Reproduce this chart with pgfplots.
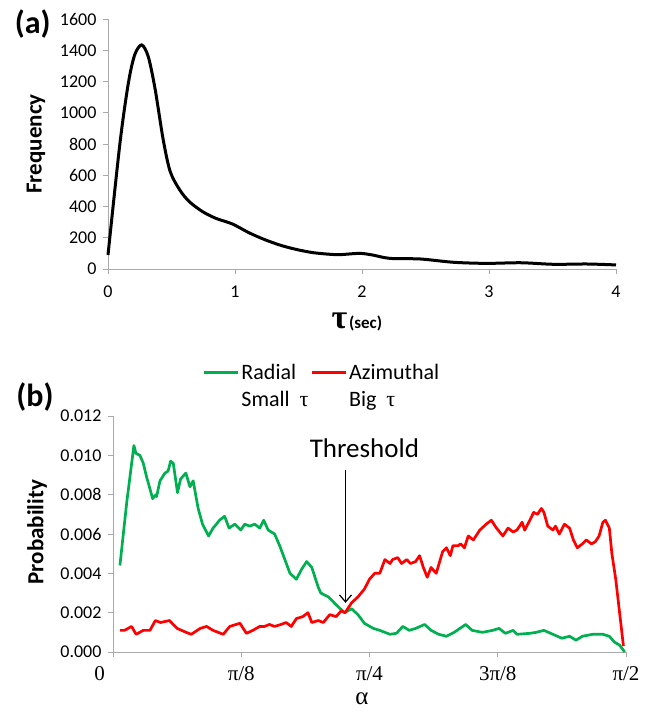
\documentclass[border=0pt]{standalone}
\usepackage{fontspec}
\setmainfont{Carlito}
\newfontfamily\serif{Liberation Serif}
\usepackage{pgfplots}
\pgfplotsset{compat=1.18}
\usetikzlibrary{arrows.meta}

\definecolor{xlgreen}{RGB}{0,176,80}
\definecolor{xlred}{RGB}{255,0,0}
\definecolor{axgray}{RGB}{170,170,170}

\pgfplotsset{
  panel/.style={
    scale only axis,
    anchor=south west,
    axis lines=left,
    axis line style={-, draw=axgray, line width=0.9bp},
    tick align=outside,
    major tick length=5bp,
    tick style={draw=axgray, line width=0.9bp},
    clip=false,
    /pgf/number format/assume math mode=true,
    ticklabel style={font=\fontsize{18bp}{21bp}\selectfont},
    yticklabel style={xshift=-3bp},
  },
}

\begin{document}
\begin{tikzpicture}
\useasboundingbox (0,0) rectangle (648bp,712bp);

% (a) frequency of tau
\begin{axis}[panel,
    at={(108bp,443bp)}, width=508bp, height=250bp,
    xmin=0, xmax=4, ymin=0, ymax=1600,
    xtick={0,1,2,3,4},
    xticklabel style={yshift=-8bp},
    ytick={0,200,...,1600},
    yticklabel style={/pgf/number format/1000 sep={}},
    ylabel={\bfseries Frequency},
    ylabel style={font=\fontsize{23bp}{26bp}\selectfont, at={(axis description cs:-0.142,0.5)}, anchor=center},
    xlabel={{\serif\bfseries\fontsize{34bp}{36bp}\selectfont τ}\,{\bfseries\fontsize{17bp}{19bp}\selectfont (sec)}},
    xlabel style={at={(axis description cs:0.49,-0.212)}, anchor=center},
  ]
  \addplot[black, line width=3bp, smooth, tension=0.5] coordinates {
    (0,90) (0.094,804) (0.16,1188) (0.21,1370) (0.265,1434) (0.317,1359)
    (0.37,1156) (0.435,826) (0.49,623) (0.565,506) (0.64,431) (0.745,367)
    (0.85,324) (0.98,288) (1.11,232) (1.24,186) (1.37,149) (1.50,122)
    (1.62,104) (1.75,94) (1.83,92) (1.98,100) (2.08,90) (2.22,68)
    (2.46,64) (2.72,43) (2.98,36) (3.25,40) (3.51,30) (3.77,32) (4.0,26)
  };
  \node[font=\bfseries\fontsize{32bp}{34bp}\selectfont] at (axis description cs:-0.148,0.98) {(a)};
\end{axis}

% (b) probability of alpha (x in units of pi/8)
\begin{axis}[panel,
    at={(113bp,60bp)}, width=513bp, height=236bp,
    xmin=0, xmax=4, ymin=0, ymax=0.012,
    xtick={0,1,2,3,4},
    xticklabels={\llap{0\hspace{8bp}}, π/8, π/4, 3π/8, π/2},
    xticklabel style={font=\serif\fontsize{21bp}{23bp}\selectfont, yshift=-6bp},
    ytick={0,0.002,...,0.012},
    scaled y ticks=false,
    yticklabel style={/pgf/number format/.cd, fixed, fixed zerofill, precision=3},
    ylabel={\bfseries Probability},
    ylabel style={font=\fontsize{23bp}{26bp}\selectfont, at={(axis description cs:-0.148,0.508)}, anchor=center},
    xlabel={\serif\fontsize{25bp}{26bp}\selectfont α},
    xlabel style={at={(axis description cs:0.485,-0.197)}, anchor=center, inner sep=0pt},
    legend columns=2,
    legend cell align=left,
    legend image code/.code={\draw[#1, line width=2.5bp] (0bp,0bp) -- (34bp,0bp);},
    legend style={draw=none, fill=none, inner sep=0pt,
      at={(axis description cs:0.175,1.245)}, anchor=north west,
      font=\fontsize{22bp}{26bp}\selectfont,
      /tikz/every even column/.append style={column sep=0bp},
      nodes={inner xsep=2bp, inner ysep=5.5bp}},
  ]
  \addplot[xlgreen, line width=2.7bp, line join=round] coordinates {
    (0.054,0.0044) (0.107,0.0076) (0.163,0.0105) (0.179,0.0101) (0.21,0.0100)
    (0.236,0.0096) (0.262,0.0089) (0.288,0.0083) (0.309,0.0078) (0.335,0.0080)
    (0.34,0.0079) (0.366,0.0087) (0.405,0.0091) (0.43,0.0092) (0.449,0.0097)
    (0.47,0.0096) (0.503,0.0081) (0.527,0.0088) (0.568,0.0091) (0.60,0.0084)
    (0.625,0.0087) (0.664,0.0073) (0.698,0.0065) (0.745,0.0059) (0.78,0.0063)
    (0.807,0.0065) (0.83,0.0067) (0.87,0.0069) (0.905,0.0063) (0.95,0.0065)
    (0.996,0.0062) (1.027,0.0065) (1.066,0.0064) (1.105,0.0065) (1.144,0.0063)
    (1.175,0.0067) (1.21,0.0062) (1.26,0.0060) (1.30,0.0054) (1.34,0.0047)
    (1.38,0.0040) (1.43,0.0037) (1.47,0.0042) (1.51,0.0046) (1.55,0.0043)
    (1.60,0.0033) (1.62,0.0030) (1.68,0.0028) (1.74,0.0024) (1.805,0.0020)
    (1.86,0.0022) (1.91,0.0019) (1.96,0.00146) (2.03,0.0012) (2.08,0.0011)
    (2.16,0.0009) (2.21,0.00095) (2.26,0.0013) (2.31,0.0011) (2.36,0.0012)
    (2.43,0.0014) (2.48,0.0011) (2.54,0.0009) (2.60,0.0008) (2.66,0.0010)
    (2.75,0.0014) (2.80,0.0011) (2.88,0.0010) (2.96,0.0011) (3.01,0.0012)
    (3.06,0.00095) (3.12,0.0011) (3.15,0.0009) (3.25,0.00095) (3.30,0.0010)
    (3.36,0.0011) (3.43,0.0009) (3.50,0.0007) (3.56,0.0008) (3.61,0.0006)
    (3.66,0.0008) (3.74,0.0009) (3.82,0.0009) (3.87,0.0008) (3.91,0.0005)
    (3.95,0.00035) (3.99,0.0000)
  };
  \addlegendentry{Radial}
  \addplot[xlred, line width=2.7bp, line join=round] coordinates {
    (0.054,0.0011) (0.09,0.0011) (0.145,0.0013) (0.18,0.0009) (0.236,0.0011)
    (0.288,0.0011) (0.33,0.0016) (0.37,0.0015) (0.44,0.0016) (0.50,0.0012)
    (0.57,0.0010) (0.61,0.0009) (0.68,0.0012) (0.73,0.0013) (0.78,0.0011)
    (0.86,0.0009) (0.91,0.0013) (0.99,0.00146) (1.04,0.00095) (1.09,0.0011)
    (1.144,0.0013) (1.18,0.0013) (1.22,0.0014) (1.26,0.0013) (1.31,0.0014)
    (1.35,0.0015) (1.39,0.0013) (1.43,0.0017) (1.48,0.0018) (1.52,0.0020)
    (1.55,0.0015) (1.60,0.0016) (1.64,0.0015) (1.69,0.0019) (1.74,0.0018)
    (1.78,0.0021) (1.81,0.0020) (1.86,0.0025) (1.91,0.0028) (1.96,0.0032)
    (2.0,0.0037) (2.04,0.0040) (2.08,0.0040) (2.12,0.0047) (2.16,0.0045)
    (2.18,0.0047) (2.22,0.0048) (2.25,0.0045) (2.29,0.0047) (2.32,0.0045)
    (2.36,0.0046) (2.39,0.0049) (2.42,0.0043) (2.45,0.0038) (2.48,0.0043)
    (2.52,0.0040) (2.57,0.0051) (2.60,0.0053) (2.63,0.0049) (2.65,0.0054)
    (2.69,0.0054) (2.71,0.0055) (2.74,0.0053) (2.77,0.0059) (2.81,0.0057)
    (2.86,0.0062) (2.91,0.0065) (2.95,0.0067) (2.99,0.0063) (3.04,0.0059)
    (3.08,0.0063) (3.12,0.0061) (3.15,0.0062) (3.19,0.0066) (3.21,0.0062)
    (3.25,0.0067) (3.28,0.0071) (3.31,0.0070) (3.34,0.0073) (3.36,0.0071)
    (3.39,0.0064) (3.43,0.0062) (3.45,0.0064) (3.48,0.0060) (3.52,0.0065)
    (3.56,0.0063) (3.59,0.0057) (3.62,0.0053) (3.66,0.0055) (3.69,0.0057)
    (3.73,0.0055) (3.76,0.0056) (3.79,0.0059) (3.82,0.0066) (3.84,0.0067)
    (3.87,0.0063) (3.89,0.0050) (3.92,0.0037) (3.95,0.0020) (3.98,0.0003)
  };
  \addlegendentry{Azimuthal}
  \addlegendimage{draw opacity=0}
  \addlegendentry{Small\ \ {\serif τ}}
  \addlegendimage{draw opacity=0}
  \addlegendentry{Big\ \ {\serif τ}}
  \draw[-{Straight Barb[length=7bp,width=12bp]}, line width=1.2bp]
    (axis cs:1.813,0.00925) -- (axis cs:1.813,0.0025);
  \node[font=\fontsize{27bp}{30bp}\selectfont] at (axis cs:1.96,0.01037) {Threshold};
  \node[font=\bfseries\fontsize{32bp}{34bp}\selectfont] at (axis description cs:-0.152,1.08) {(b)};
\end{axis}
\end{tikzpicture}
\end{document}
